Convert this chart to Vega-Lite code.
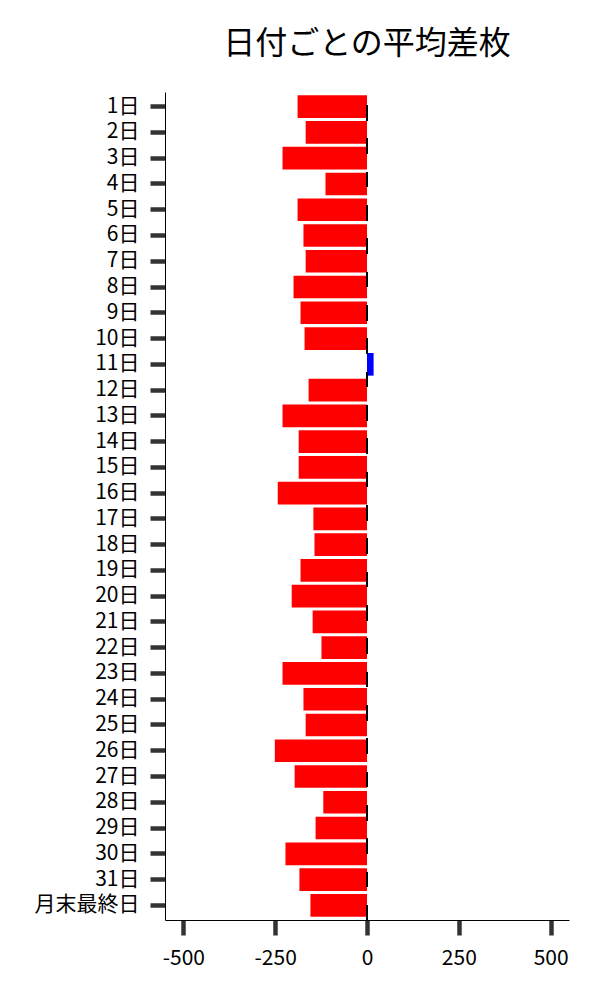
{
  "$schema": "https://vega.github.io/schema/vega-lite/v6.json",
  "autosize": "none",
  "width": 404,
  "height": 828,
  "padding": {"left": 165, "top": 92, "right": 31, "bottom": 80},
  "background": "white",
  "config": {
    "view": {"stroke": null},
    "font": "Noto Sans CJK JP",
    "axis": {"grid": false}
  },
  "title": {
    "text": "日付ごとの平均差枚",
    "fontSize": 32,
    "fontWeight": "normal",
    "color": "black",
    "anchor": "middle",
    "offset": 30,
    "font": "Noto Sans CJK JP"
  },
  "data": {
    "values": [
      {"day": "1日", "value": -189},
      {"day": "2日", "value": -167},
      {"day": "3日", "value": -230},
      {"day": "4日", "value": -113},
      {"day": "5日", "value": -189},
      {"day": "6日", "value": -173},
      {"day": "7日", "value": -167},
      {"day": "8日", "value": -200},
      {"day": "9日", "value": -181},
      {"day": "10日", "value": -170},
      {"day": "11日", "value": 18},
      {"day": "12日", "value": -159},
      {"day": "13日", "value": -230},
      {"day": "14日", "value": -186},
      {"day": "15日", "value": -186},
      {"day": "16日", "value": -243},
      {"day": "17日", "value": -146},
      {"day": "18日", "value": -143},
      {"day": "19日", "value": -181},
      {"day": "20日", "value": -205},
      {"day": "21日", "value": -148},
      {"day": "22日", "value": -124},
      {"day": "23日", "value": -230},
      {"day": "24日", "value": -173},
      {"day": "25日", "value": -167},
      {"day": "26日", "value": -251},
      {"day": "27日", "value": -197},
      {"day": "28日", "value": -119},
      {"day": "29日", "value": -140},
      {"day": "30日", "value": -222},
      {"day": "31日", "value": -184},
      {"day": "月末最終日", "value": -154}
    ]
  },
  "layer": [
    {
      "mark": {"type": "bar"},
      "encoding": {
        "y": {
          "field": "day",
          "type": "nominal",
          "sort": null,
          "title": null,
          "scale": {"paddingInner": 0.12, "paddingOuter": 0.13},
          "axis": {
            "domainColor": "black",
            "domainWidth": 1,
            "tickColor": "#333333",
            "tickWidth": 4.5,
            "tickSize": 15,
            "labelFontSize": 21,
            "labelColor": "black",
            "labelPadding": 11,
            "labelFont": "Noto Sans CJK JP",
            "labelOverlap": false
          }
        },
        "x": {
          "field": "value",
          "type": "quantitative",
          "title": null,
          "scale": {"domain": [-550, 550], "nice": false, "zero": false},
          "axis": {
            "values": [-500, -250, 0, 250, 500],
            "domainColor": "black",
            "domainWidth": 1,
            "tickColor": "#333333",
            "tickWidth": 4.5,
            "tickSize": 15,
            "labelFontSize": 21,
            "labelColor": "black",
            "labelPadding": 12,
            "labelFont": "Noto Sans CJK JP",
            "labelFlush": false,
            "labelExpr": "replace(datum.label, '−', '-')"
          }
        },
        "color": {
          "condition": {"test": "datum.value < 0", "value": "#ff0000"},
          "value": "#0000ff"
        }
      }
    },
    {
      "mark": {"type": "rule", "color": "black", "strokeWidth": 2, "strokeDash": [15, 18.33], "strokeDashOffset": 20},
      "encoding": {
        "x": {"datum": 0}
      }
    }
  ]
}
